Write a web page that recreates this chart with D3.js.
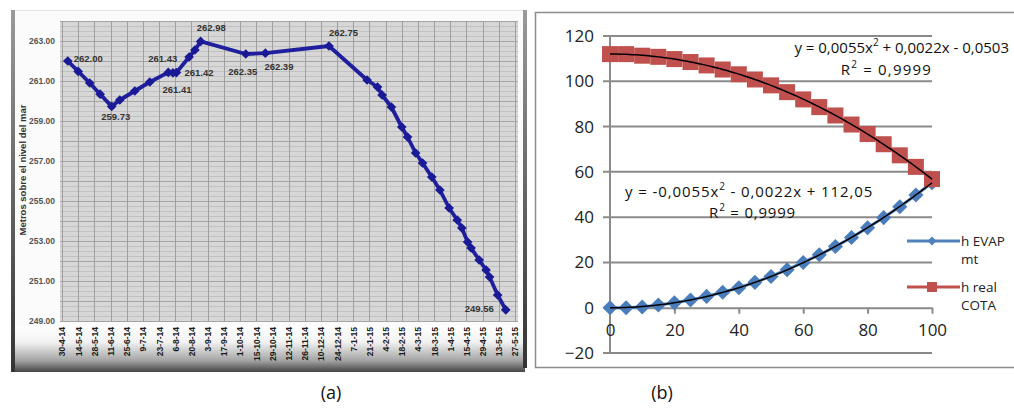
<!DOCTYPE html>
<html>
<head>
<meta charset="utf-8">
<script src="https://cdn.jsdelivr.net/npm/d3@7"></script>
<style>
  body { margin: 0; background: #fff; }
  svg { display: block; }
</style>
</head>
<body>
<svg id="chart" width="1014" height="409"></svg>
<script>
// ---- panel (a): water level, metres above sea level ----
var levelDates = ["2014-05-05","2014-05-14","2014-05-24","2014-06-02","2014-06-12","2014-06-19",
  "2014-07-02","2014-07-15","2014-07-31","2014-08-04","2014-08-07","2014-08-18","2014-08-23",
  "2014-08-28","2014-10-06","2014-10-23","2014-12-17","2015-01-19","2015-01-28","2015-02-01",
  "2015-02-09","2015-02-18","2015-02-23","2015-03-02","2015-03-08","2015-03-16","2015-03-23",
  "2015-03-31","2015-04-07","2015-04-11","2015-04-16","2015-04-19","2015-04-26","2015-05-02",
  "2015-05-05","2015-05-12","2015-05-19"];
var levelValues = [262.00, 261.48, 260.90, 260.34, 259.73, 260.05, 260.50, 260.95, 261.43, 261.41,
  261.42, 262.20, 262.55, 262.98, 262.35, 262.39, 262.75, 261.05, 260.70, 260.30, 259.70, 258.70,
  258.20, 257.40, 256.90, 256.20, 255.55, 254.65, 254.05, 253.65, 252.95, 252.65, 252.05, 251.55,
  251.20, 250.30, 249.56];
// which points carry a value label
var labelled = [0, 4, 8, 9, 10, 13, 14, 15, 16, 36];
var dateTicks = ["30-4-14","14-5-14","28-5-14","11-6-14","25-6-14","9-7-14","23-7-14","6-8-14",
  "20-8-14","3-9-14","17-9-14","1-10-14","15-10-14","29-10-14","12-11-14","26-11-14","10-12-14",
  "24-12-14","7-1-15","21-1-15","4-2-15","18-2-15","4-3-15","18-3-15","1-4-15","15-4-15",
  "29-4-15","13-5-15","27-5-15"];
var levelTicks = [249, 251, 253, 255, 257, 259, 261, 263];

// ---- panel (b): evaporation vs real level ----
var xPct = [0,5,10,15,20,25,30,35,40,45,50,55,60,65,70,75,80,85,90,95,100];
var hEvap = [0, 0, 0.3, 1.2, 2.2, 3.4, 5, 6.8, 8.8, 11.2, 13.8, 16.8, 20, 23.4, 27, 31, 35.3, 39.8, 44.6, 49.8, 55.2];
var hReal = [112, 112, 111.3, 110.8, 109.8, 108.5, 107, 105.2, 103.1, 100.8, 98.2, 95.2, 92, 88.6,
  84.9, 80.9, 76.7, 72.2, 67.3, 62.2, 56.8];
var evapCoef = [0.0055, 0.0022, -0.0503];   // as printed on the chart
var realCoef = [-0.0055, -0.0022, 112.05];
var yTicksB = [-20, 0, 20, 40, 60, 80, 100, 120];
var xTicksB = [0, 20, 40, 60, 80, 100];

var svg = d3.select("#chart");
var parse = d3.timeParse("%Y-%m-%d");
var tickParse = d3.timeParse("%d-%m-%y");

// ================= panel (a) =================
var defs = svg.append("defs");
var grad = defs.append("linearGradient").attr("id", "foot").attr("x1", 0).attr("y1", 0).attr("x2", 0).attr("y2", 1);
grad.append("stop").attr("offset", "0%").attr("stop-color", "#ffffff");
grad.append("stop").attr("offset", "35%").attr("stop-color", "#f2f2f2");
grad.append("stop").attr("offset", "75%").attr("stop-color", "#a4a4a4");
grad.append("stop").attr("offset", "100%").attr("stop-color", "#444");
var side = defs.append("linearGradient").attr("id", "side").attr("x1", 0).attr("y1", 0).attr("x2", 0).attr("y2", 1);
side.append("stop").attr("offset", "0%").attr("stop-color", "#9a9a9a");
side.append("stop").attr("offset", "100%").attr("stop-color", "#333");

var A = svg.append("g");
A.append("rect").attr("x", 13).attr("y", 10).attr("width", 513).attr("height", 362).attr("fill", "#fbfbfb");
A.append("line").attr("x1", 13).attr("x2", 526).attr("y1", 10.5).attr("y2", 10.5).attr("stroke", "#e4e4e4");
A.append("rect").attr("x", 14).attr("y", 326).attr("width", 511).attr("height", 46).attr("fill", "url(#foot)");
A.append("rect").attr("x", 11).attr("y", 10).attr("width", 4).attr("height", 362).attr("fill", "url(#side)");
A.append("rect").attr("x", 523).attr("y", 10).attr("width", 4).attr("height", 358).attr("fill", "url(#side)");

var xA = d3.scaleTime()
  .domain([tickParse(dateTicks[0]), tickParse(dateTicks[dateTicks.length - 1])])
  .range([62, 515]);
var yA = d3.scaleLinear().domain([249, 264]).range([321, 21]);

A.append("rect").attr("x", 60).attr("y", 21).attr("width", 458).attr("height", 301).attr("fill", "#d7d7d7");

// minor horizontal grid
A.append("g").selectAll("line").data(d3.range(249, 264.01, 0.25)).join("line")
  .attr("x1", 60).attr("x2", 518)
  .attr("y1", d => Math.round(yA(d)) + 0.5).attr("y2", d => Math.round(yA(d)) + 0.5)
  .attr("stroke", d => (d % 1 === 0) ? "#a5a5a5" : "#c1c1c1").attr("stroke-width", 1);
// vertical grid on every date tick
A.append("g").selectAll("line").data(dateTicks).join("line")
  .attr("x1", d => Math.round(xA(tickParse(d))) + 0.5).attr("x2", d => Math.round(xA(tickParse(d))) + 0.5)
  .attr("y1", 21).attr("y2", 322)
  .attr("stroke", "#a0a0a0");

// y axis of (a)
var yAxisA = A.append("g").attr("transform", "translate(57,0)")
  .call(d3.axisLeft(yA).tickValues(levelTicks).tickFormat(d3.format(".2f")).tickSize(0).tickPadding(2));
yAxisA.select(".domain").remove();
yAxisA.selectAll("text").attr("font-family", "Liberation Sans").attr("font-size", 8.5)
  .attr("font-weight", "bold").attr("fill", "#555");

A.append("text").attr("transform", "translate(26,170) rotate(-90)")
  .attr("text-anchor", "middle").attr("font-family", "Liberation Sans").attr("font-weight", "bold")
  .attr("font-size", 9.5).attr("fill", "#333").text("Metros sobre el nivel del mar");

// x axis of (a): rotated date labels
var xAxisA = A.append("g").attr("transform", "translate(0,322)")
  .call(d3.axisBottom(xA).tickValues(dateTicks.map(tickParse)).tickSize(0)
    .tickFormat((d, i) => dateTicks[i]));
xAxisA.select(".domain").remove();
xAxisA.selectAll("text")
  .attr("transform", "rotate(-90)").attr("text-anchor", "end")
  .attr("x", -5).attr("y", 0).attr("dy", "0.35em")
  .attr("font-family", "Liberation Sans").attr("font-weight", "bold").attr("font-size", 8.5)
  .attr("fill", "#1a1a1a");

var ptsA = levelDates.map((d, i) => ({ x: xA(parse(d)), y: yA(levelValues[i]), v: levelValues[i] }));
A.append("path").datum(ptsA)
  .attr("d", d3.line().x(d => d.x).y(d => d.y))
  .attr("fill", "none").attr("stroke", "#1f1f9e").attr("stroke-width", 3.8).attr("stroke-linejoin", "round");
A.append("g").selectAll("path").data(ptsA).join("path")
  .attr("transform", d => "translate(" + d.x + "," + d.y + ")")
  .attr("d", d3.symbol(d3.symbolDiamond2, 60))
  .attr("fill", "#1a1a96");

// label placement: [dx, dy, anchor], one per labelled point
var labelPlace = [[6, 1, "start"], [4, 14, "middle"], [9, -10, "end"], [4, 20, "middle"],
  [8, 3, "start"], [-4, -10, "start"], [-3, 21, "middle"], [-1, 17, "start"], [0, -10, "start"],
  [-12, 2.5, "end"]];
A.append("g").selectAll("text").data(labelled).join("text")
  .attr("x", (d, i) => ptsA[d].x + labelPlace[i][0])
  .attr("y", (d, i) => ptsA[d].y + labelPlace[i][1])
  .attr("text-anchor", (d, i) => labelPlace[i][2])
  .attr("font-family", "Liberation Sans").attr("font-weight", "bold").attr("font-size", 9.5)
  .attr("fill", "#333").text(d => levelValues[d].toFixed(2));

// ================= panel (b) =================
var B = svg.append("g");
B.append("rect").attr("x", 535.5).attr("y", 12.5).attr("width", 480).attr("height", 355)
  .attr("fill", "#fff").attr("stroke", "#8c8c8c").attr("stroke-width", 1.5);

var xB = d3.scaleLinear().domain([0, 100]).range([610, 932]);
var yB = d3.scaleLinear().domain([-20, 120]).range([353, 36]);

B.append("g").selectAll("line").data(yTicksB.filter(d => d !== 0)).join("line")
  .attr("x1", 603).attr("x2", xB(100))
  .attr("y1", d => yB(d)).attr("y2", d => yB(d))
  .attr("stroke", "#8a8a8a").attr("stroke-width", 2);
B.append("line").attr("x1", xB(0)).attr("x2", xB(0)).attr("y1", yB(120)).attr("y2", yB(-20))
  .attr("stroke", "#8a8a8a").attr("stroke-width", 2);

var yAxisB = B.append("g").attr("transform", "translate(603,0)")
  .call(d3.axisLeft(yB).tickValues(yTicksB).tickSize(0).tickPadding(9));
yAxisB.select(".domain").remove();
yAxisB.selectAll("text").attr("font-family", "Open Sans").attr("font-size", 17).attr("fill", "#222");

var xAxisB = B.append("g").attr("transform", "translate(0," + yB(0) + ")")
  .call(d3.axisBottom(xB).tickValues(xTicksB).tickSize(6).tickSizeOuter(0).tickPadding(10));
xAxisB.select(".domain").attr("stroke", "#8a8a8a").attr("stroke-width", 2);
xAxisB.selectAll("line").attr("stroke", "#8a8a8a").attr("stroke-width", 2);
xAxisB.selectAll("text").attr("font-family", "Open Sans").attr("font-size", 17).attr("fill", "#222");

var lineB = d3.line().x(d => xB(d[0])).y(d => yB(d[1]));
var evapPts = xPct.map((x, i) => [x, hEvap[i]]);
var realPts = xPct.map((x, i) => [x, hReal[i]]);

B.append("path").datum(evapPts).attr("d", lineB).attr("fill", "none")
  .attr("stroke", "#4f81bd").attr("stroke-width", 3);
B.append("g").selectAll("path").data(evapPts).join("path")
  .attr("transform", d => "translate(" + xB(d[0]) + "," + yB(d[1]) + ")")
  .attr("d", d3.symbol(d3.symbolDiamond2, 145)).attr("fill", "#4a7dbb");

B.append("path").datum(realPts).attr("d", lineB).attr("fill", "none")
  .attr("stroke", "#c0504d").attr("stroke-width", 3);
B.append("g").selectAll("rect").data(realPts).join("rect")
  .attr("x", d => xB(d[0]) - 8).attr("y", d => yB(d[1]) - 8)
  .attr("width", 16).attr("height", 16).attr("fill", "#c0504d");

// polynomial trendlines from the printed equations
function poly(c) { return x => c[0] * x * x + c[1] * x + c[2]; }
[evapCoef, realCoef].forEach(c => {
  var f = poly(c);
  B.append("path").datum(d3.range(0, 100.01, 1).map(x => [x, f(x)]))
    .attr("d", lineB).attr("fill", "none").attr("stroke", "#000").attr("stroke-width", 1.5);
});

function eq(g, x, y, anchor, spacing, parts) {
  var t = g.append("text").attr("x", x).attr("y", y).attr("text-anchor", anchor)
    .attr("font-family", "Open Sans").attr("font-size", 15).attr("fill", "#111")
    .attr("letter-spacing", spacing);
  parts.forEach(p => {
    var s = t.append("tspan").text(p[0]);
    if (p[1]) s.attr("baseline-shift", "super").attr("font-size", 10);
  });
}
eq(B, 1009, 53, "end", 0, [["y = 0,0055x"], ["2", true], [" + 0,0022x - 0,0503"]]);
eq(B, 932, 75, "end", 1.2, [["R"], ["2", true], [" = 0,9999"]]);
eq(B, 625, 197, "start", 0.9, [["y = -0,0055x"], ["2", true], [" - 0,0022x + 112,05"]]);
eq(B, 796, 218, "end", 0.8, [["R"], ["2", true], [" = 0,9999"]]);

// legend
var legend = [
  { name: ["h EVAP", "mt"], color: "#4f81bd", y: 241, mark: "diamond" },
  { name: ["h real", "COTA"], color: "#c0504d", y: 287, mark: "square" }
];
var lg = B.append("g").selectAll("g").data(legend).join("g");
lg.append("line").attr("x1", 907).attr("x2", 960).attr("y1", d => d.y).attr("y2", d => d.y)
  .attr("stroke", d => d.color).attr("stroke-width", 3);
lg.append("path")
  .attr("transform", d => "translate(932," + d.y + ")")
  .attr("d", d => d.mark === "diamond" ? d3.symbol(d3.symbolDiamond2, 50)() : d3.symbol(d3.symbolSquare, 100)())
  .attr("fill", d => d.color);
lg.append("text").attr("x", 961).attr("y", d => d.y + 5)
  .attr("font-family", "Open Sans").attr("font-size", 13.5).attr("fill", "#222")
  .selectAll("tspan").data(d => d.name).join("tspan")
  .attr("x", 961).attr("dy", (d, i) => i ? 18 : 0).text(d => d);

// panel captions
svg.selectAll(".cap").data(["(a)", "(b)"]).join("text").attr("class", "cap")
  .attr("x", (d, i) => [331, 662][i]).attr("y", 399).attr("text-anchor", "middle")
  .attr("font-family", "Open Sans").attr("font-size", 18).attr("fill", "#111").text(d => d);
</script>
</body>
</html>
